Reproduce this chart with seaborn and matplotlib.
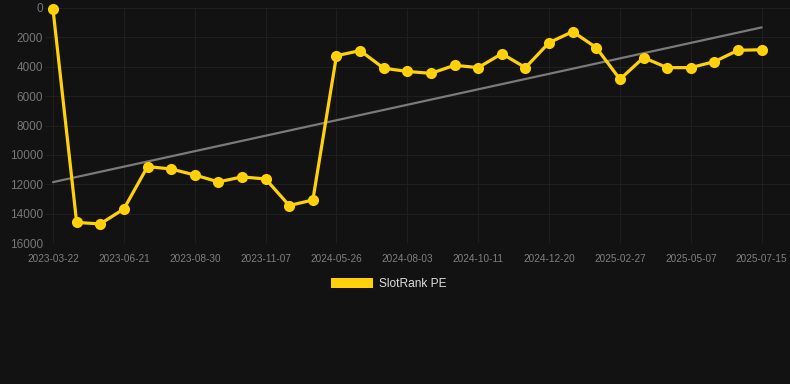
import numpy as np
import pandas as pd
import seaborn as sns
import matplotlib
matplotlib.use('Agg')
import matplotlib.pyplot as plt
from matplotlib.patches import Patch

# rank values (lower rank = better, axis is inverted)
ranks = [100, 14600, 14700, 13680, 10800, 10960, 11370, 11840, 11500, 11640,
         13450, 13070, 3250, 2900, 4100, 4320, 4450, 3900, 4060, 3110,
         4060, 2360, 1610, 2700, 4850, 3380, 4060, 4060, 3650, 2880, 2840]
tick_labels = ['2023-03-22', '2023-06-21', '2023-08-30', '2023-11-07',
               '2024-05-26', '2024-08-03', '2024-10-11', '2024-12-20',
               '2025-02-27', '2025-05-07', '2025-07-15']
series_name = 'SlotRank PE'

bg = '#121212'
gold = '#FFD10A'
grid = '#1f1f1f'

data = pd.DataFrame({'idx': np.arange(len(ranks)), 'rank': ranks})

sns.set_style('dark')
plt.rcParams['font.family'] = ['Liberation Sans', 'DejaVu Sans']

fig = plt.figure(figsize=(7.9, 3.84), dpi=100, facecolor=bg)
ax = fig.add_axes([45 / 790, 1 - 243 / 384, 745 / 790, 235 / 384])
ax.set_facecolor(bg)

# trend line (least squares fit)
sns.regplot(data=data, x='idx', y='rank', scatter=False, ci=None, ax=ax,
            line_kws=dict(color='#7a7a7a', lw=1.6, zorder=2))

sns.lineplot(data=data, x='idx', y='rank', ax=ax, color=gold, lw=2.3,
             marker='o', markersize=8, markeredgewidth=0, zorder=3,
             clip_on=False)

ax.set_ylim(16000, 0)
ax.set_xlim(-0.34, 31.2)
ax.set_yticks(np.arange(0, 16001, 2000))
ax.set_xticks(np.arange(0, len(ranks), 3))
ax.set_xticklabels(tick_labels)
ax.tick_params(axis='y', labelsize=8.5, colors='#777777', length=0, pad=1.5)
ax.tick_params(axis='x', labelsize=7.2, colors='#808080', length=5,
               color=grid, pad=3)
ax.grid(True, color=grid, lw=0.8)
ax.set_xlabel('')
ax.set_ylabel('')
for s in ax.spines.values():
    s.set_visible(False)

handle = Patch(facecolor=gold, edgecolor='none')
fig.legend([handle], [series_name], loc='center', bbox_to_anchor=(0.492, 1 - 284 / 384),
           frameon=False, fontsize=8.6, labelcolor='#dddddd',
           handlelength=3.5, handleheight=0.95, handletextpad=0.45)

fig.savefig('out.png', dpi=100, facecolor=bg)
